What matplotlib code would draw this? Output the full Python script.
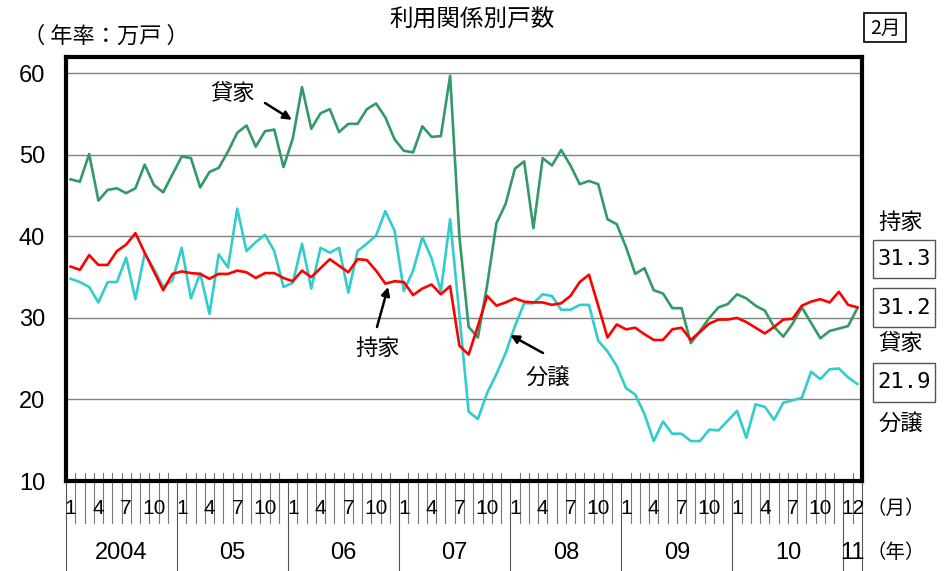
import numpy as np
import matplotlib
matplotlib.use("Agg")
import matplotlib.pyplot as plt
from matplotlib.patches import Rectangle

plt.rcParams['font.family'] = ['Liberation Sans', 'Noto Sans CJK JP']
JP = ['Noto Sans CJK JP', 'DejaVu Sans']

# monthly data, Jan 2004 .. Feb 2011 (annualised, 10k units)
years = ["2004", "05", "06", "07", "08", "09", "10", "11"]
month_marks = ["1", "4", "7", "10"]
last_year_label = "12"   # Jan and Feb 2011 labels run together

rental = [47.0, 46.7, 50.1, 44.4, 45.7, 45.9, 45.3, 45.9, 48.8, 46.3, 45.4, 47.6,
          49.8, 49.6, 46.0, 47.9, 48.4, 50.4, 52.7, 53.6, 51.0, 52.9, 53.1, 48.5,
          52.0, 58.3, 53.2, 55.1, 55.6, 52.8, 53.8, 53.8, 55.6, 56.3, 54.6, 51.9,
          50.5, 50.3, 53.5, 52.2, 52.3, 59.7, 40.0, 28.9, 27.6, 34.0, 41.6, 44.0,
          48.3, 49.2, 41.0, 49.6, 48.7, 50.6, 48.7, 46.4, 46.8, 46.4, 42.1, 41.5,
          38.7, 35.4, 36.1, 33.4, 33.0, 31.2, 31.2, 26.9, 28.4, 30.0, 31.3, 31.7,
          32.9, 32.4, 31.5, 30.9, 28.9, 27.7, 29.3, 31.3, 29.4, 27.5, 28.4, 28.7,
          29.0, 31.2]

owner = [36.3, 35.9, 37.7, 36.5, 36.5, 38.2, 39.0, 40.4, 38.0, 35.7, 33.4, 35.4,
         35.7, 35.5, 35.4, 34.8, 35.4, 35.4, 35.8, 35.6, 34.9, 35.5, 35.5, 34.9,
         34.5, 35.8, 35.0, 36.1, 37.2, 36.4, 35.6, 37.2, 37.1, 35.8, 34.2, 34.5,
         34.4, 32.8, 33.6, 34.1, 32.9, 33.9, 26.6, 25.5, 29.0, 32.7, 31.5, 31.9,
         32.4, 32.0, 31.9, 31.9, 31.6, 31.8, 32.7, 34.4, 35.3, 31.5, 27.6, 29.2,
         28.6, 28.8, 28.0, 27.3, 27.3, 28.6, 28.8, 27.3, 28.3, 29.3, 29.8, 29.8,
         30.0, 29.5, 28.8, 28.1, 28.9, 29.8, 29.9, 31.5, 32.0, 32.3, 31.9, 33.2,
         31.6, 31.3]

condo = [34.8, 34.4, 33.8, 31.9, 34.4, 34.4, 37.4, 32.3, 37.9, 36.0, 33.8, 34.6,
         38.6, 32.4, 35.5, 30.5, 37.8, 36.2, 43.4, 38.2, 39.3, 40.2, 38.2, 33.8,
         34.3, 39.1, 33.6, 38.6, 38.0, 38.6, 33.1, 38.2, 39.1, 40.1, 43.1, 40.7,
         33.3, 35.8, 39.9, 37.3, 33.3, 42.1, 30.4, 18.5, 17.6, 20.8, 23.1, 25.7,
         29.0, 31.8, 31.8, 32.9, 32.7, 31.0, 31.0, 31.6, 31.6, 27.2, 25.9, 24.1,
         21.4, 20.6, 18.2, 14.9, 17.3, 15.8, 15.8, 14.9, 14.9, 16.3, 16.2, 17.4,
         18.6, 15.3, 19.4, 19.1, 17.5, 19.6, 19.9, 20.2, 23.4, 22.5, 23.7, 23.8,
         22.7, 21.9]

latest = {"持家": "31.3", "貸家": "31.2", "分譲": "21.9"}

W, H = 950, 571


def fx(px):
    return px / W


def fy(py):
    return 1 - py / H


n = len(rental)
x = np.arange(n) + 0.5

fig = plt.figure(figsize=(9.5, 5.71), dpi=100)
ax = fig.add_axes([fx(66), fy(481), fx(862) - fx(66), fy(57) - fy(481)])

ax.plot(x, condo, color="#33CCCC", lw=1.9, zorder=3)
ax.plot(x, rental, color="#339966", lw=1.9, zorder=3)
ax.plot(x, owner, color="#FF0000", lw=1.9, zorder=4)

ax.set_xlim(0, n)
ax.set_ylim(10, 62)
ax.set_yticks(np.arange(10, 61, 10))
ax.yaxis.grid(True, color="#808080", lw=1.0)
ax.set_axisbelow(True)
ax.tick_params(axis="y", length=0, pad=15, labelsize=17)
ax.set_xticks([])
for s in ax.spines.values():
    s.set_linewidth(3)
    s.set_color("black")

# category axis: month boundary lines, year separators, labels
tr = ax.get_xaxis_transform()
yr_bounds = list(range(0, n, 12)) + [n]
for b in range(1, n):
    if b in yr_bounds:
        continue
    ax.plot([b, b], [0.019, -0.099], transform=tr, color="#777777", lw=0.8, clip_on=False)
for b in yr_bounds:
    ax.plot([b, b], [0.0, -0.21], transform=tr, color="#555555", lw=0.8, clip_on=False)

for k, yl in enumerate(years):
    start = 12 * k
    end = min(start + 12, n)
    if k < len(years) - 1:
        for m in month_marks:
            ax.text(start + int(m) - 0.5, -0.064, m, transform=tr, ha="center", va="center", fontsize=15)
    else:
        ax.text((start + end) / 2, -0.064, last_year_label, transform=tr, ha="center", va="center", fontsize=15)
    ax.text((start + end) / 2, -0.17, yl, transform=tr, ha="center", va="center", fontsize=17)

fig.text(fx(866), fy(508), "（月）", family=JP, fontsize=14, ha="left", va="center")
fig.text(fx(866), fy(553), "（年）", family=JP, fontsize=14, ha="left", va="center")

# titles
fig.text(fx(472), fy(20), "利用関係別戸数", family=JP, fontsize=17, ha="center", va="center")
fig.text(fx(106), fy(36), "（ 年率：万戸 ）", family=JP, fontsize=16, ha="center", va="center")

fig.patches.append(Rectangle((fx(864), fy(42)), fx(42), 29 / H, transform=fig.transFigure,
                             fill=False, ec="black", lw=1.2))
fig.text(fx(885), fy(28), "2月", family=JP, fontsize=14, ha="center", va="center")

# right-hand latest values
boxes = [("持家", 240, 278, 222), ("貸家", 288, 327, 343), ("分譲", 363, 402, 423)]
for name, top, bot, ly in boxes:
    fig.patches.append(Rectangle((fx(873), fy(bot)), fx(62), (bot - top) / H,
                                 transform=fig.transFigure, fill=False, ec="#555555", lw=1.0))
    fig.text(fx(904), fy((top + bot) / 2), latest[name],
             fontsize=16, ha="center", va="center", family="DejaVu Sans Mono")
    fig.text(fx(901), fy(ly), name, family=JP, fontsize=16, ha="center", va="center")

# series annotations
arrow = dict(arrowstyle="-|>,head_length=0.5,head_width=0.25", color="black", lw=1.8,
             shrinkA=0, shrinkB=0)
ax.annotate("", xy=(24.4, 54.3), xytext=(fx(265), fy(103)), textcoords="figure fraction",
            arrowprops=arrow)
fig.text(fx(233), fy(93), "貸家", family=JP, fontsize=16, ha="center", va="center")

ax.annotate("", xy=(34.8, 33.8), xytext=(fx(377), fy(327)), textcoords="figure fraction",
            arrowprops=arrow)
fig.text(fx(378), fy(348), "持家", family=JP, fontsize=16, ha="center", va="center")

ax.annotate("", xy=(48.0, 27.9), xytext=(fx(543), fy(353)), textcoords="figure fraction",
            arrowprops=arrow)
fig.text(fx(548), fy(377), "分譲", family=JP, fontsize=16, ha="center", va="center")

fig.savefig("out.png", dpi=100)
